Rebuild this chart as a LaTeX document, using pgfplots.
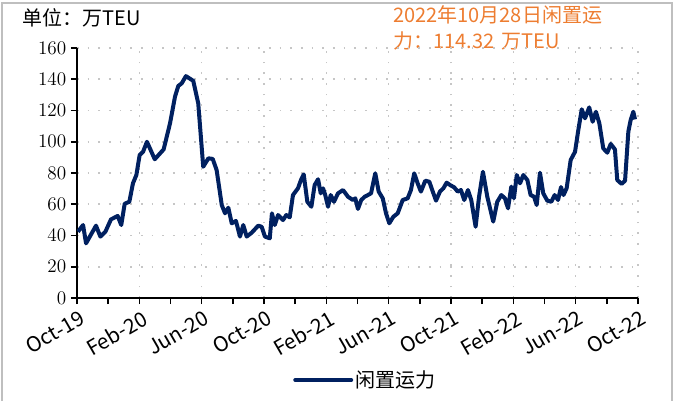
\documentclass[border=0pt]{standalone}
\usepackage{fontspec}
\setmainfont{Noto Sans CJK SC}
\usepackage{pgfplots}
\pgfplotsset{compat=1.18}
\definecolor{navy}{HTML}{002060}
\definecolor{orng}{HTML}{ED7D31}
\begin{document}
\begin{tikzpicture}[x=0.75pt,y=0.75pt]
\useasboundingbox (0,0) rectangle (676,401);
\draw[color=black!25, line width=1.5pt] (2,0) -- (2,398) -- (672,398) -- (672,0);
\node[anchor=west, inner sep=0pt, font=\fontsize{15}{18}\selectfont] at (22,383) {单位：万TEU};
\node[anchor=west, inner sep=0pt, text=orng, font=\fontsize{15}{18}\selectfont] at (393,386) {2022年10月28日闲置运};
\node[anchor=west, inner sep=0pt, text=orng, font=\fontsize{15}{18}\selectfont] at (393,360) {力：114.32\hspace{0.35em}万TEU};
\begin{axis}[
  at={(57.75pt,77.25pt)}, anchor=south west,
  scale only axis, width=420.75pt, height=187.5pt,
  xmin=0, xmax=36, ymin=0, ymax=160,
  axis x line=bottom, axis y line=left,
  axis line style={-, line width=1.5pt, black},
  x axis line style={-}, y axis line style={-},
  xtick={0,4,...,36}, minor xtick={2,6,...,34},
  xticklabels={Oct-19,Feb-20,Jun-20,Oct-20,Feb-21,Jun-21,Oct-21,Feb-22,Jun-22,Oct-22},
  ytick={0,20,...,160},
  tick align=outside,
  major tick length=4.5pt, minor tick length=4.5pt,
  tick style={black, line width=1.2pt},
  xmajorgrids, ymajorgrids,
  major grid style={gray!45, line width=1.2pt, dash pattern=on 1.2pt off 6.8pt},
  yticklabel style={font=\fontsize{14}{16}\selectfont},
  xticklabel style={font=\fontsize{15.5}{17}\selectfont, rotate=30, anchor=north east, inner sep=1pt, yshift=-3pt},
  legend style={at={(0.385,-0.328)}, anchor=west, draw=none, fill=none, inner sep=0pt, font=\fontsize{15}{18}\selectfont},
  legend image code/.code={\draw[#1, line cap=round] (0pt,0pt) -- (42pt,0pt);},
]
\addplot[navy, line width=3pt, line join=round] coordinates {
(0.06,42.4)(0.39,46.7)(0.58,35)(1.22,46.3)(1.50,39.3)(1.82,42.4)(2.18,50.3)(2.61,52.5)(2.84,46.7)(3.06,60.3)
(3.36,61.6)(3.59,73.4)(3.81,78.7)(4.02,91.5)(4.24,93.6)(4.49,100)(4.99,88.8)(5.56,95.1)(5.97,111.8)(6.29,128.9)
(6.50,135.7)(6.72,137.4)(6.99,142)(7.46,139)(7.78,124.6)(8.10,84)(8.43,89.4)(8.71,89)(8.96,81.9)(9.29,59.5)
(9.50,54.2)(9.71,57.8)(9.93,47.8)(10.20,49.3)(10.46,39.3)(10.67,46.7)(10.89,39.3)(11.21,41.8)(11.63,46.3)(11.85,45.6)
(12.06,39.3)(12.37,38.2)(12.51,54.2)(12.69,46.7)(12.90,53.1)(13.22,49.9)(13.43,53.1)(13.65,51.6)(13.86,65.9)(14.18,70.2)
(14.39,76)(14.55,79.1)(14.78,61.6)(15.04,58.4)(15.25,72.3)(15.47,76)(15.64,67)(15.79,70.2)(15.93,65.9)(16.11,58.4)
(16.28,65.9)(16.49,61.6)(16.75,67)(17.07,69.1)(17.39,64.8)(17.71,62.7)(17.86,63.8)(18.03,57)(18.24,62.7)(18.46,64.8)
(18.67,65.9)(18.87,67)(19.14,79.8)(19.36,68.1)(19.62,63.8)(19.83,54.2)(20.04,47.8)(20.30,52)(20.58,54.2)(20.90,62.7)
(21.22,63.8)(21.43,69.1)(21.64,79.8)(21.86,73.4)(22.07,68.1)(22.35,75.1)(22.61,74.4)(22.83,68.1)(23.04,62.3)(23.29,68.1)
(23.51,70.2)(23.72,73.8)(23.94,72.3)(24.21,70.8)(24.43,68.1)(24.64,69.1)(24.85,62.7)(25.09,69.1)(25.30,62.7)(25.58,45.6)
(25.80,64.8)(26.05,80.8)(26.33,64.8)(26.71,48.9)(26.97,61.6)(27.23,65.9)(27.46,63.8)(27.66,57.4)(27.87,71.3)(28.04,63.8)
(28.22,78.7)(28.43,73.4)(28.64,78.7)(28.90,75.5)(29.11,65.9)(29.33,64.8)(29.50,59.5)(29.71,80.2)(29.92,67)(30.18,62.3)
(30.44,61.6)(30.65,65.9)(30.87,62.7)(31.06,71)(31.22,65.9)(31.42,70.2)(31.68,88.3)(31.96,93.6)(32.17,107.5)(32.39,120.8)
(32.60,115)(32.87,122)(33.09,112.8)(33.30,119.2)(33.52,111.8)(33.77,95.8)(34.03,93)(34.25,98.6)(34.52,95.1)(34.67,75.5)
(34.95,73)(35.17,75.1)(35.38,106.4)(35.53,113.9)(35.70,119.2)(35.81,114.32)
};
\addlegendentry{闲置运力}
\end{axis}
\end{tikzpicture}
\end{document}
